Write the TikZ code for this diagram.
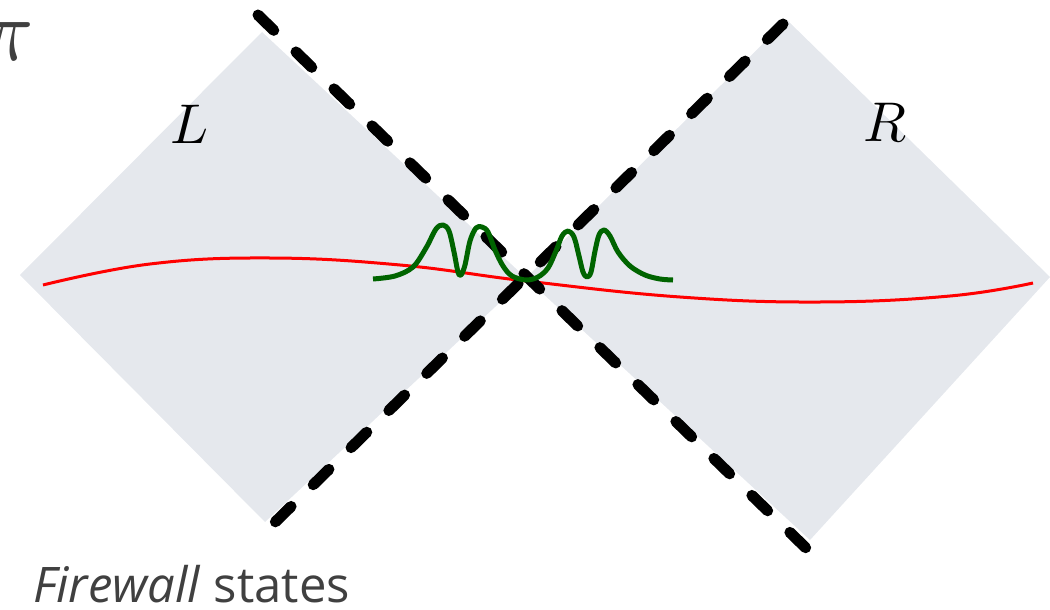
\documentclass[tikz,border=0pt]{standalone}
\usepackage{fontspec}
\newfontfamily\labelsans{Open Sans}
\definecolor{regiongrey}{RGB}{229,232,237}
\definecolor{textgrey}{RGB}{64,64,64}
\definecolor{wavegreen}{RGB}{0,100,0}
\tikzset{
  region/.style={fill=regiongrey, draw=none},
  horizon/.style={line width=11pt, line cap=round, dash pattern=on 22pt off 31pt, black},
  slice/.style={line width=3pt, red},
  packet/.style={line width=5pt, wavegreen, line join=round},
  biglabel/.style={scale=5.6, inner sep=0pt}
}
\begin{document}
\begin{tikzpicture}[x=1pt,y=-1pt]
\useasboundingbox (0,0) rectangle (1050,610);
% regions
\coordinate (c) at (526,278);
\coordinate (lw) at (20,275);
\coordinate (ln) at (262,32);
\coordinate (ls) at (265,522);
\coordinate (rn) at (787,20);
\coordinate (re) at (1050,277);
\coordinate (rs) at (810,540);
\fill[region] (lw) -- (ln) -- (c) -- (ls) -- cycle;
\fill[region] (rn) -- (re) -- (rs) -- (c) -- cycle;
% red slice
\draw[slice] plot[smooth, tension=0.7] coordinates {(43,285) (150,264) (270,258) (400,265) (526,281) (680,297) (820,302) (950,296) (1033,283)};
% horizons
\coordinate (a1) at (258,15);
\coordinate (a2) at (808,550);
\coordinate (b1) at (783,24);
\coordinate (b2) at (264,533);
\draw[horizon] (a1) -- (a2);
\draw[horizon] (b1) -- (b2);
% green packets
\draw[packet] plot[smooth, tension=0.55] coordinates {(373,279) (395,276) (413,267) (426,248) (436,229) (443,225) (449,231) (454,252) (458,272) (461,275) (465,265) (470,241) (476,228) (482,227) (488,232) (495,250) (503,266) (512,276) (526,280) (538,277) (548,268) (556,251) (562,236) (568,231) (574,237) (579,256) (583,272) (587,277) (591,272) (595,251) (599,235) (604,230) (610,236) (618,252) (630,266) (645,275) (660,279) (673,280)};
% labels
\node[biglabel, anchor=base] (L) at (190,143) {$L$};
\node[biglabel, anchor=base] (R) at (885,141) {$R$};
\node[scale=8.8, textgrey, inner sep=0pt, anchor=base east] (pi) at (36,61) {$\pi$};
\node[font=\labelsans\fontsize{49}{49}\selectfont, textgrey, inner sep=0pt, text depth=0pt, anchor=base west] (cap) at (33,602) {\textit{Firewall} states};
\end{tikzpicture}
\end{document}
